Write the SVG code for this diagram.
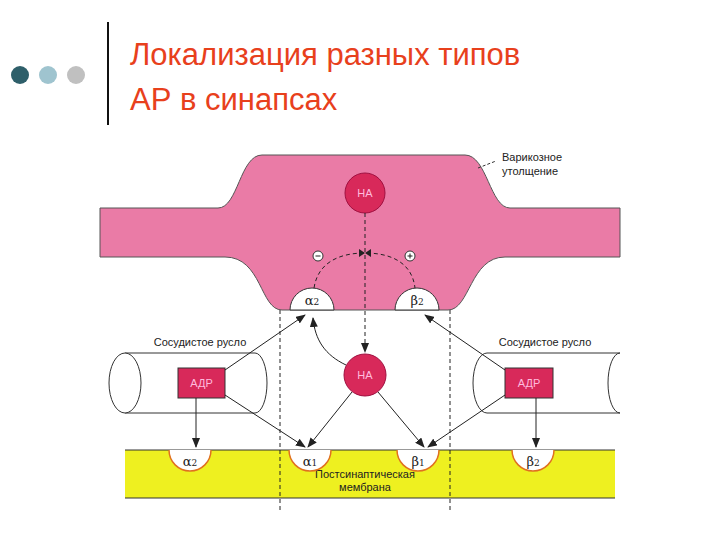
<svg xmlns="http://www.w3.org/2000/svg" width="720" height="540" viewBox="0 0 720 540">
<defs>
<marker id="ah" markerWidth="10" markerHeight="8" refX="9" refY="4" orient="auto" markerUnits="userSpaceOnUse"><path d="M0,0 L10,4 L0,8 Z" fill="#222"/></marker>
<style>
.t{font-family:"Liberation Sans",Arial,sans-serif}
.lbl{font-size:11px;fill:#222}
.rc{fill:#fff;stroke:#333;stroke-width:1}
.rp{fill:#fff;stroke:#e07020;stroke-width:1.5}
.dash{stroke:#222;stroke-dasharray:4,3;fill:none;stroke-width:1}
.ln{stroke:#222;fill:none;stroke-width:1;marker-end:url(#ah)}
.na{fill:#d8295a;stroke:#a01040}
.sym{font-family:"DejaVu Serif",serif;font-size:13px;fill:#222}
</style>
</defs>
<rect width="720" height="540" fill="#fff"/>
<g id="header">
<circle cx="20" cy="75" r="9" fill="#2e5f6a"/>
<circle cx="48" cy="75" r="9" fill="#9fc4cf"/>
<circle cx="76" cy="75" r="9" fill="#c0c0c0"/>
<line x1="108" y1="22" x2="108" y2="125" stroke="#111" stroke-width="2"/>
<text class="t" x="130" y="65" font-size="31" fill="#e8401c">Локализация разных типов</text>
<text class="t" x="130" y="110" font-size="31" fill="#e8401c">АР в синапсах</text>
</g>
<g id="membrane">
<rect x="125" y="450" width="490" height="48" fill="#eef020"/>
<line x1="125" y1="450" x2="615" y2="450" stroke="#333"/>
<line x1="125" y1="498" x2="615" y2="498" stroke="#333"/>
<text class="t lbl" x="365" y="478" text-anchor="middle">Постсинаптическая</text>
<text class="t lbl" x="365" y="491" text-anchor="middle">мембрана</text>
</g>
<g id="varicosity">
<path d="M100,208 L218,208 C238,208 240,155 262,155 L465,155 C487,155 490,208 510,208 L620,208 L620,257 L505,257 C470,257 470,310 448,310 L282,310 C260,310 262,257 225,257 L100,257 Z" fill="#ea7ba6" stroke="#555" stroke-width="1"/>
<line x1="478" y1="168" x2="496" y2="161" stroke="#333" stroke-dasharray="3,2"/>
<text class="t lbl" x="502" y="161">Варикозное</text>
<text class="t lbl" x="502" y="175">утолщение</text>
</g>
<g id="na-top"><circle class="na" cx="365" cy="193" r="20"/><text class="t" x="365" y="197" font-size="11" fill="#fbd" text-anchor="middle">НА</text></g>
<g id="alpha2-pre"><path class="rc" d="M290,310 A22,22 0 0 1 334,310 Z"/><text class="sym" x="312" y="305" text-anchor="middle">α<tspan font-size="9">2</tspan></text></g>
<g id="beta2-pre"><path class="rc" d="M395,310 A22,22 0 0 1 439,310 Z"/><text class="sym" x="417" y="305" text-anchor="middle">β<tspan font-size="9">2</tspan></text></g>
<g id="minus"><circle cx="318" cy="256" r="5" fill="#fff" stroke="#333"/><line x1="315.5" y1="256" x2="320.5" y2="256" stroke="#222"/></g>
<g id="plus"><circle cx="410" cy="256" r="5" fill="#fff" stroke="#333"/><line x1="407.5" y1="256" x2="412.5" y2="256" stroke="#222"/><line x1="410" y1="253.5" x2="410" y2="258.5" stroke="#222"/></g>
<g id="vessel-left">
<path d="M125,353 L255,353 M125,413 L255,413" stroke="#333" fill="none"/>
<ellipse cx="125" cy="383" rx="16" ry="30" fill="#fff" stroke="#333"/>
<path d="M255,353 A12,30 0 0 1 255,413" stroke="#333" fill="none"/>
<text class="t lbl" x="200" y="346" text-anchor="middle">Сосудистое русло</text>
</g>
<g id="vessel-right">
<path d="M487,353 L620,353 M487,413 L620,413" stroke="#333" fill="none"/>
<path d="M487,353 A14,30 0 0 0 487,413" stroke="#333" fill="#fff"/>
<path d="M620,353 A12,30 0 0 0 620,413" stroke="#333" fill="none"/>
<text class="t lbl" x="545" y="346" text-anchor="middle">Сосудистое русло</text>
</g>
<g id="adr-left"><rect x="178" y="368" width="47" height="30" fill="#d8295a" stroke="#333"/><text class="t" x="201.5" y="387" font-size="11" fill="#fbd" text-anchor="middle">АДР</text></g>
<g id="adr-right"><rect x="505" y="368" width="48" height="30" fill="#d8295a" stroke="#333"/><text class="t" x="529" y="387" font-size="11" fill="#fbd" text-anchor="middle">АДР</text></g>
<g id="na-center"><circle class="na" cx="365" cy="375" r="21"/><text class="t" x="365" y="379" font-size="11" fill="#fbd" text-anchor="middle">НА</text></g>
<g id="r-alpha2"><path class="rp" d="M169,450 A21,21 0 0 0 211,450"/><text class="sym" x="190" y="466" text-anchor="middle">α<tspan font-size="9">2</tspan></text></g>
<g id="r-alpha1"><path class="rp" d="M289,450 A21,21 0 0 0 331,450"/><text class="sym" x="310" y="466" text-anchor="middle">α<tspan font-size="9">1</tspan></text></g>
<g id="r-beta1"><path class="rp" d="M397,450 A21,21 0 0 0 439,450"/><text class="sym" x="418" y="466" text-anchor="middle">β<tspan font-size="9">1</tspan></text></g>
<g id="r-beta2"><path class="rp" d="M512,450 A21,21 0 0 0 554,450"/><text class="sym" x="533" y="466" text-anchor="middle">β<tspan font-size="9">2</tspan></text></g>
<g id="connectors">
<line class="dash" x1="280" y1="310" x2="280" y2="510"/>
<line class="dash" x1="450" y1="310" x2="450" y2="510"/>
<line class="dash" x1="365" y1="213" x2="365" y2="352" marker-end="url(#ah)"/>
<path class="dash" d="M314,288 C318,262 340,253 365,253 C390,253 412,262 415,288"/>
<path d="M359,249 L365,253 L359,257 Z M371,249 L365,253 L371,257 Z" fill="#222"/>
<line class="ln" x1="225" y1="370" x2="305" y2="315"/>
<path class="ln" d="M346,365 C325,355 315,340 313,318"/>
<line class="ln" x1="505" y1="370" x2="425" y2="315"/>
<line class="ln" x1="225" y1="395" x2="305" y2="447"/>
<line class="ln" x1="352" y1="392" x2="308" y2="447"/>
<line class="ln" x1="378" y1="392" x2="424" y2="447"/>
<line class="ln" x1="505" y1="395" x2="428" y2="447"/>
<line class="ln" x1="196" y1="398" x2="196" y2="447"/>
<line class="ln" x1="536" y1="398" x2="536" y2="447"/>
</g>
</svg>
